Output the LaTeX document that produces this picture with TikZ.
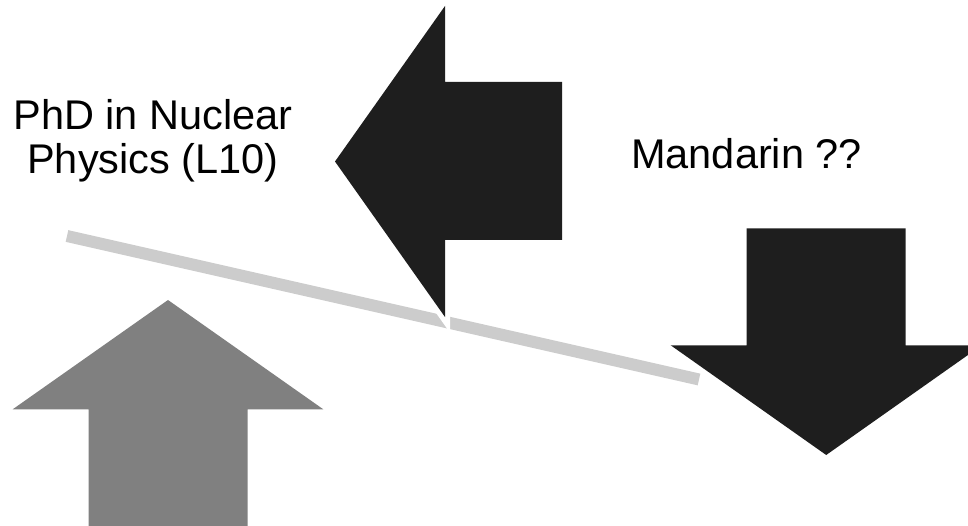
\documentclass[tikz,border=0pt]{standalone}
\usepackage{fontspec}
\setmainfont{Liberation Sans}
\definecolor{arrowdark}{RGB}{30,30,30}
\definecolor{arrowgray}{RGB}{128,128,128}
\definecolor{beamgray}{RGB}{204,204,204}
\begin{document}
\begin{tikzpicture}[x=1pt,y=-1pt,
  darkarrow/.style={fill=arrowdark},
  grayarrow/.style={fill=arrowgray},
  halo/.style={draw=white,line width=10pt,line join=miter,miter limit=20},
  beam/.style={draw=beamgray,line width=12pt,line cap=butt},
  caption/.style={inner sep=0pt,font=\fontsize{41.5}{43.3}\selectfont,align=center}]
\useasboundingbox (0,0) rectangle (968,526);
\clip (0,0) rectangle (968,526);

% tilted balance beam
\coordinate (beamL) at (67,236);
\coordinate (beamR) at (699,379.5);
\draw[beam] (beamL) -- (beamR);

% left-pointing arrow, with a white halo where it cuts the beam
\path[halo] (445,6) -- (335,161.5) -- (445,317) -- (445,240) -- (562,240)
  -- (562,82) -- (445,82) -- cycle;
\fill[darkarrow] (445,6) -- (335,161.5) -- (445,317) -- (445,240) -- (562,240)
  -- (562,82) -- (445,82) -- cycle;

% downward arrow on the right
\fill[darkarrow] (746.7,228.3) -- (905.7,228.3) -- (905.7,345.3) -- (981.7,345.3)
  -- (826.2,455) -- (670.7,345.3) -- (746.7,345.3) -- cycle;

% upward arrow on the left
\fill[grayarrow] (88.5,540) -- (88.5,409.3) -- (12.7,409.3) -- (168,300)
  -- (323.3,409.3) -- (247.5,409.3) -- (247.5,540) -- cycle;

% labels (base anchor sits on the last line)
\node[caption,anchor=base] (phd) at (153,173.3) {PhD in Nuclear\\Physics (L10)};
\node[caption,anchor=base west] (mandarin) at (631,168.3) {Mandarin ??};
\end{tikzpicture}
\end{document}
